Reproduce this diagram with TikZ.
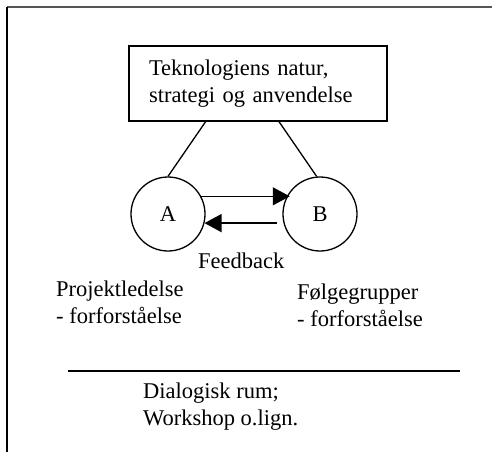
\documentclass[tikz,border=0pt]{standalone}
\usepackage{fontspec}
\setmainfont{Liberation Serif}
\usetikzlibrary{arrows.meta,calc}
\definecolor{framegray}{RGB}{85,85,85}
\begin{document}
\begin{tikzpicture}[x=1pt,y=-1pt,
  every node/.style={font=\fontsize{22.5}{27}\selectfont},
  stroke/.style={line width=1.3pt},
  actor/.style={draw,circle,stroke,minimum size=74pt,inner sep=0pt},
  lbl/.style={inner sep=0pt,anchor=base west,align=left},
  flow/.style={stroke,-{Triangle[length=17pt,width=18pt]}}
]
\useasboundingbox (0,0) rectangle (492,452);
% page frame (top and left edges only)
\draw[line width=1.5pt,color=framegray] (7,7) -- (492,7);
\draw[line width=1.3pt] (7,7) -- (7,452);

% topic box
\node[draw,stroke,minimum height=75pt,text width=218pt,inner xsep=20pt,inner ysep=0pt,align=left]
  (T) at (258,83.5) {Teknologiens natur,\\strategi og anvendelse};

% the two parties
\node[actor] (A) at (168,214) {A};
\node[actor] (B) at (320,214) {B};

\draw[stroke] ($(T.south west)!0.298!(T.south east)$) -- (A.north);
\draw[stroke] ($(T.south west)!0.581!(T.south east)$) -- (B.95);

\draw[flow,shorten >=-3pt] (A.28) -- (B.152);
\draw[flow,shorten <=6pt] (B.194) -- (A.346);

% labels (anchored on the baseline of their last line)
\node[lbl] (fb) at (198,268) {Feedback};
\node[lbl] (pl) at (56,323) {Projektledelse\\- forforståelse};
\node[lbl] (fg) at (297,326) {Følgegrupper\\- forforståelse};

% dialogue space
\draw[stroke] (68,371) -- (460,371);
\node[lbl] (dr) at (143,425) {Dialogisk rum;\\Workshop o.lign.};
\end{tikzpicture}
\end{document}
